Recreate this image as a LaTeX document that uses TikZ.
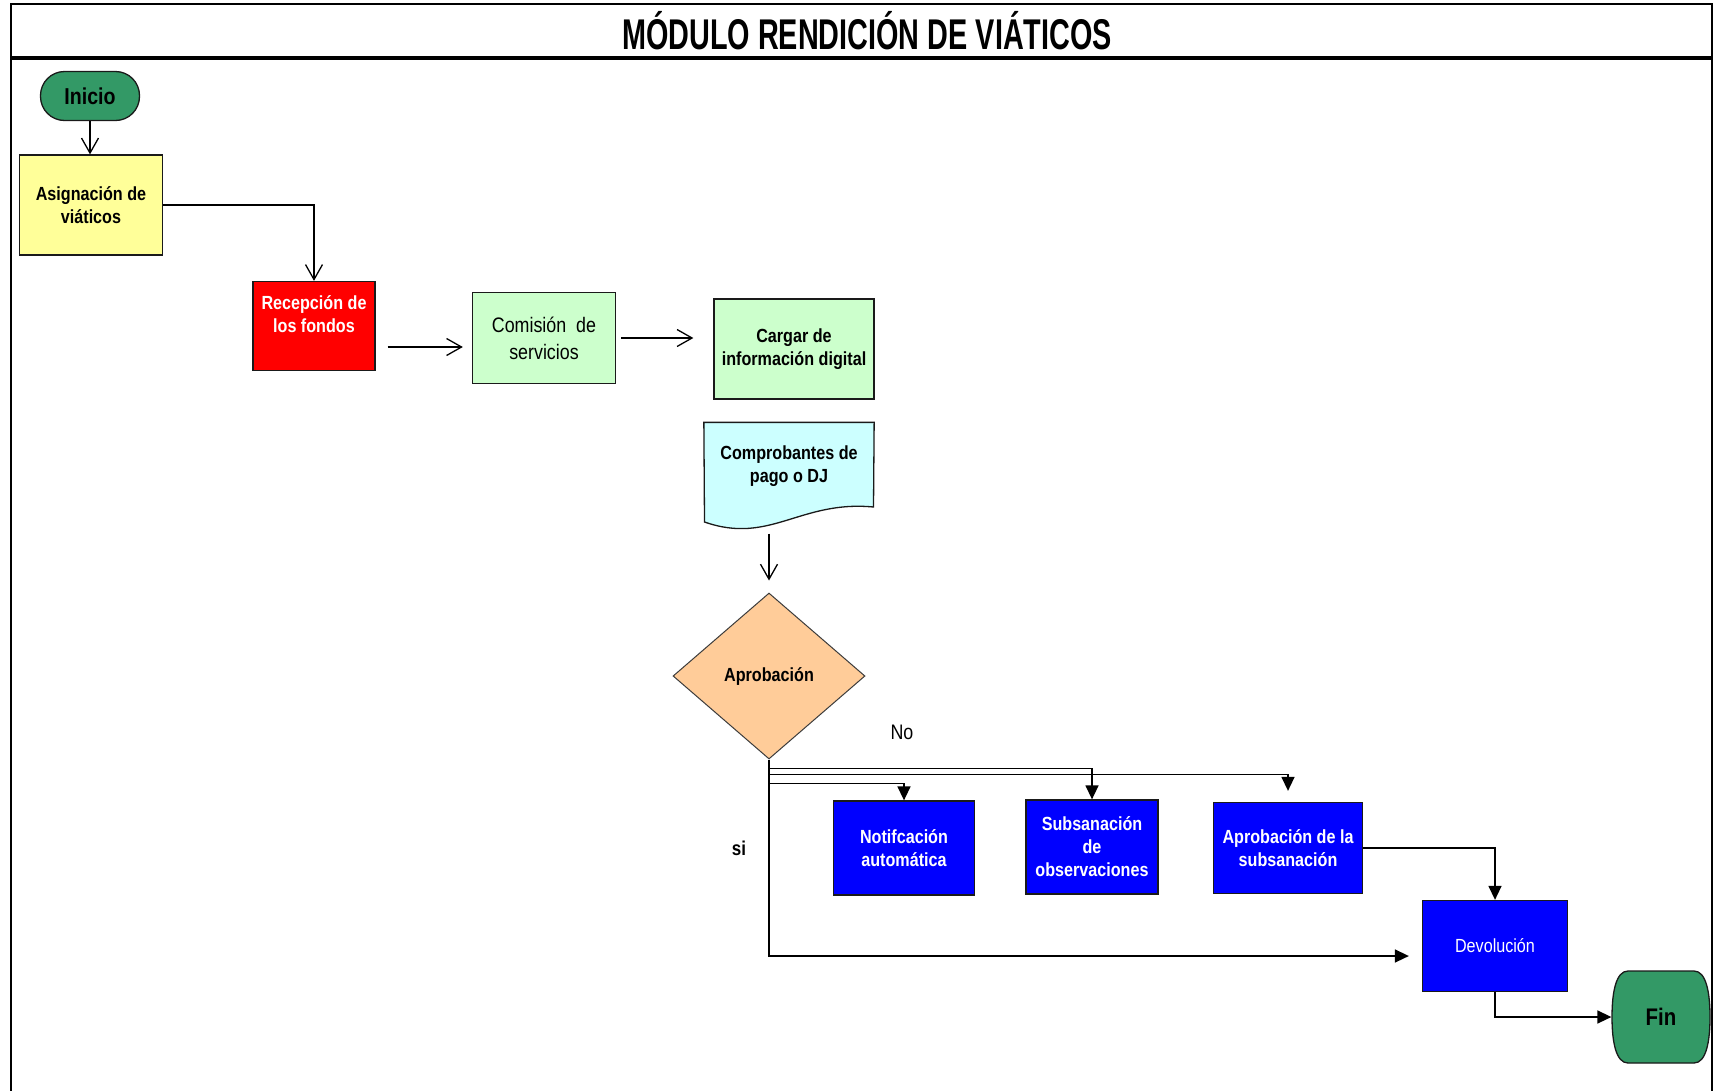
\documentclass[tikz,border=0pt]{standalone}
\usepackage{fontspec}
\setmainfont{Liberation Sans}[FakeStretch=0.85]
\newfontfamily\titlefont{Liberation Sans}[FakeStretch=0.67]
\usetikzlibrary{arrows.meta,shapes.geometric,calc,backgrounds}

\definecolor{termgreen}{HTML}{339966}
\definecolor{paleyellow}{HTML}{FFFF99}
\definecolor{palegreen}{HTML}{CCFFCC}
\definecolor{palecyan}{HTML}{CCFFFF}
\definecolor{peach}{HTML}{FFCC99}
\definecolor{pureblue}{HTML}{0000FF}
\definecolor{edge}{HTML}{1A1A1A}

\begin{document}
\begin{tikzpicture}[x=1pt,y=-1pt,
  base/.style={draw=edge, line width=1.3pt, inner sep=0pt, align=center,
    font=\fontsize{19}{23}\selectfont\bfseries},
  bluebox/.style={base, fill=pureblue, text=white},
  terminal/.style={base, fill=termgreen, rounded corners=24pt,
    font=\fontsize{23}{27}\selectfont\bfseries},
  outline/.style={draw=edge, line width=1.3pt},
  openarr/.style={line width=1.3pt, -{Straight Barb[length=15pt,width=17pt,line width=1.3pt]}},
  solidarr/.style={line width=1.5pt, -{Triangle[length=14pt,width=13pt]}},
  lbl/.style={font=\fontsize{21}{25}\selectfont}
]

\useasboundingbox (0,0) rectangle (1720,1090);

% frame and title band
\draw[line width=2pt] (11,1092) -- (11,4) -- (1712,4) -- (1712,1092);
\draw[line width=3.5pt] (11,58) -- (1712,58);
\node[font=\titlefont\fontsize{43}{48}\selectfont\bfseries, anchor=base, inner sep=0pt]
  (title) at (867,49) {MÓDULO RENDICIÓN DE VIÁTICOS};

% process steps
\node[terminal, minimum width=99pt, minimum height=49pt] (ini) at (90,96) {Inicio};
\node[base, fill=paleyellow, minimum width=143pt, minimum height=100pt] (asig) at (91,205)
  {Asignación de\\viáticos};
\node[base, fill=red, text=white, minimum width=122pt, minimum height=89pt] (rec) at (314,326)
  {Recepción de\\los fondos\\\mbox{}};
\node[base, fill=palegreen, font=\fontsize{21}{27}\selectfont, minimum width=143pt,
  minimum height=91pt] (com) at (544,338) {Comisión\ \ de\\servicios};
\node[base, fill=palegreen, minimum width=160pt, minimum height=100pt] (carg) at (794,349)
  {Cargar de\\información digital};
\node[base, draw=none, minimum width=169pt, minimum height=86pt] (comp) at (789,466)
  {Comprobantes de\\pago o DJ};
\node[diamond, draw=edge!85, line width=1pt, fill=peach, minimum width=192pt,
  minimum height=166pt, inner sep=0pt, font=\fontsize{19}{23}\selectfont\bfseries]
  (dia) at (769,676) {Aprobación};

\node[bluebox, minimum width=141pt, minimum height=94pt] (notif) at (904,848)
  {Notifcación\\automática};
\node[bluebox, minimum width=132pt, minimum height=94pt] (subs) at (1092,847)
  {Subsanación\\de\\observaciones};
\node[bluebox, minimum width=149pt, minimum height=91pt] (aps) at (1288,848)
  {Aprobación de la\\subsanación};
\node[bluebox, font=\fontsize{19}{23}\selectfont, minimum width=145pt, minimum height=91pt]
  (dev) at (1495,946) {Devolución};
\node[base, draw=none, font=\fontsize{24}{28}\selectfont\bfseries, minimum width=98pt,
  minimum height=92pt] (fin) at (1661,1017) {Fin};

% document outline with wavy bottom and the barrel-shaped end terminal
\begin{scope}[on background layer]
  \fill[white] (0,0) rectangle (1720,1090);
  \draw[outline, fill=palecyan] (comp.north west) -- (comp.north east) -- (873.5,507)
    .. controls (800,500) and (770,545) .. (704.5,522) -- cycle;
  \begin{scope}[shift={(fin.center)}]
    \draw[outline, fill=termgreen] (-33,-46) -- (33,-46)
      .. controls (45,-46) and (49,-25) .. (49,0)
      .. controls (49,25) and (45,46) .. (33,46) -- (-33,46)
      .. controls (-45,46) and (-49,25) .. (-49,0)
      .. controls (-49,-25) and (-45,-46) .. (-33,-46) -- cycle;
  \end{scope}
\end{scope}

% branch labels
\node[lbl] (no) at (902,732) {No};
\node[lbl, font=\fontsize{20}{24}\selectfont\bfseries] (si) at (739,848) {si};

% connectors
\draw[openarr] (ini.south) -- (ini.south |- asig.north);
\draw[openarr] (asig.east) -| (rec.north);
\draw[openarr, shorten <=12pt, shorten >=9pt] ([yshift=-21pt]rec.east) -- ([yshift=-9pt]com.west);
\draw[openarr, shorten <=5pt, shorten >=20pt] (com.east) -- (com.east -| carg.west);
\draw[openarr] ($(comp.south -| dia.north)+(0,24)$) -- ([yshift=12pt]dia.north);

\draw[solidarr] (dia.south) |- ([xshift=-13pt,yshift=-10pt]dev.west);
\draw[solidarr] ([yshift=-9pt]dia.south) -| (subs.north);
\draw[solidarr] ([yshift=-15pt]dia.south) -| ([yshift=11pt]aps.north);
\draw[solidarr] ([yshift=-24pt]dia.south) -| (notif.north);
\draw[solidarr] (aps.east) -| (dev.north);
\draw[solidarr] (dev.south) |- (fin.west);
\end{tikzpicture}
\end{document}
